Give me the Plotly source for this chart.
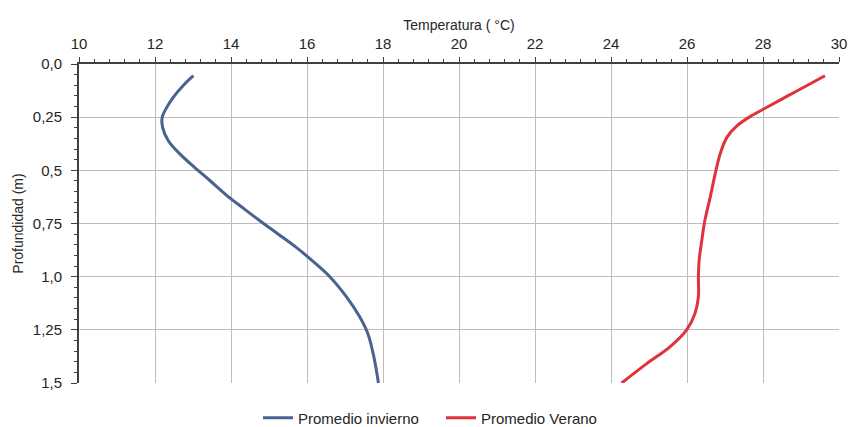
import plotly.graph_objects as go

# Data
depth_invierno = [0.055, 0.10, 0.157, 0.204, 0.25, 0.298, 0.361, 0.424, 0.486, 0.549, 0.62, 0.675,
                  0.736, 0.797, 0.86, 0.922, 1.0, 1.095, 1.19, 1.267, 1.377, 1.5]
temp_invierno = [13.01, 12.75, 12.48, 12.31, 12.19, 12.2, 12.35, 12.66, 13.04, 13.45, 13.9, 14.3,
                 14.75, 15.22, 15.7, 16.12, 16.6, 17.04, 17.39, 17.6, 17.76, 17.88]

depth_verano = [0.055, 0.10, 0.15, 0.20, 0.245, 0.29, 0.345, 0.424, 0.518, 0.627, 0.736, 0.828,
                0.922, 1.0, 1.095, 1.173, 1.25, 1.33, 1.409, 1.5]
temp_verano = [29.63, 29.17, 28.65, 28.14, 27.68, 27.32, 27.05, 26.87, 26.74, 26.61, 26.47, 26.39,
               26.32, 26.30, 26.30, 26.21, 25.99, 25.55, 24.94, 24.28]

x_ticks = [10, 12, 14, 16, 18, 20, 22, 24, 26, 28, 30]
y_ticks = [0.0, 0.25, 0.5, 0.75, 1.0, 1.25, 1.5]
y_ticklabels = ["0,0", "0,25", "0,5", "0,75", "1,0", "1,25", "1,5"]

FONT = "Liberation Sans, Arial, sans-serif"
TXT = "#262626"
GRID = "#bdbdbd"
AX = "#404040"

fig = go.Figure()
fig.add_trace(go.Scatter(x=temp_invierno, y=depth_invierno, mode="lines",
                         line=dict(color="#4a6290", width=3, shape="spline", smoothing=1),
                         name="Promedio invierno", legend="legend"))
fig.add_trace(go.Scatter(x=temp_verano, y=depth_verano, mode="lines",
                         line=dict(color="#e0323a", width=3, shape="spline", smoothing=1),
                         name="Promedio Verano", legend="legend2"))

leg_common = dict(orientation="h", yanchor="middle", y=-0.11, xanchor="left",
                  font=dict(family=FONT, size=15, color=TXT), bgcolor="rgba(0,0,0,0)")

fig.update_layout(
    width=850, height=427,
    margin=dict(l=79, r=11, t=64, b=44, autoexpand=False),
    paper_bgcolor="white", plot_bgcolor="white",
    font=dict(family=FONT, size=14, color=TXT),
    showlegend=True,
    legend=dict(x=(258 - 79) / 760, **leg_common),
    legend2=dict(x=(441 - 79) / 760, **leg_common),
    xaxis=dict(
        side="top", range=[10, 30], tickvals=x_ticks,
        showgrid=True, gridcolor=GRID, gridwidth=1,
        showline=True, linecolor=AX, linewidth=2,
        ticks="outside", ticklen=5, tickcolor=AX, tickwidth=1,
        ticklabelstandoff=2,
        minor=dict(dtick=0.4, tick0=10, ticks="outside", ticklen=3, tickcolor=AX, showgrid=False),
        title=dict(text="Temperatura ( °C)", standoff=1, font=dict(size=14)),
        tickfont=dict(size=15), zeroline=False,
    ),
    yaxis=dict(
        range=[1.5, 0.0], tickvals=y_ticks, ticktext=y_ticklabels,
        showgrid=True, gridcolor=GRID, gridwidth=1,
        showline=True, linecolor=AX, linewidth=2,
        ticks="outside", ticklen=6, tickcolor=AX, tickwidth=1,
        ticklabelstandoff=6,
        minor=dict(dtick=0.05, tick0=0, ticks="outside", ticklen=3, tickcolor=AX, showgrid=False),
        title=dict(text="Profundidad (m)", standoff=6, font=dict(size=14)),
        tickfont=dict(size=15), zeroline=False,
    ),
)

fig.write_html("out.html")
